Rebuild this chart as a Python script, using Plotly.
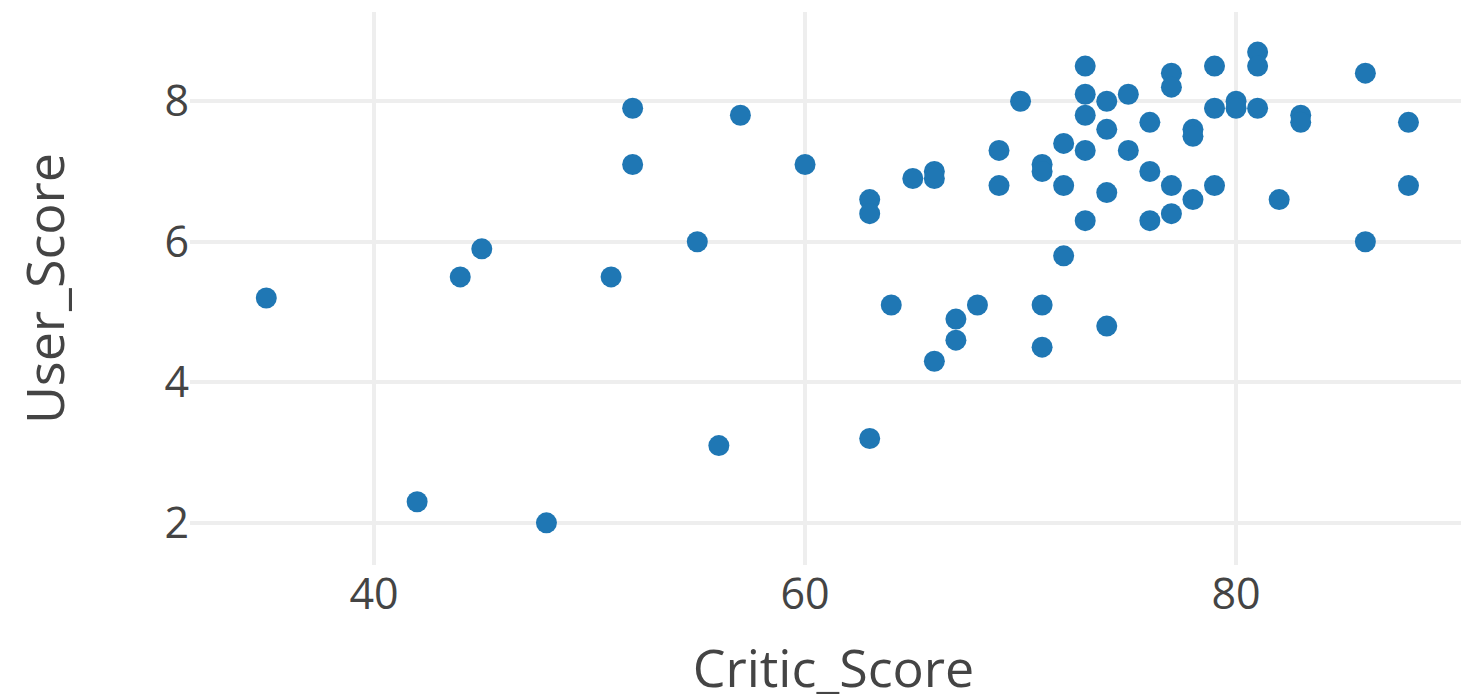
import plotly.graph_objects as go

critic_score = [35, 42, 44, 45, 48, 51, 52, 52, 55, 56, 57, 60, 63, 63, 63, 64, 65, 66, 66, 66,
                67, 67, 68, 69, 69, 70, 71, 71, 71, 71, 72, 72, 72, 73, 73, 73, 73, 73, 74, 74,
                74, 74, 75, 75, 76, 76, 76, 77, 77, 77, 77, 78, 78, 78, 79, 79, 79, 80, 80, 81,
                81, 81, 82, 83, 83, 86, 86, 88, 88]
user_score = [5.2, 2.3, 5.5, 5.9, 2.0, 5.5, 7.9, 7.1, 6.0, 3.1, 7.8, 7.1, 6.6, 6.4, 3.2, 5.1, 6.9, 7.0, 6.9, 4.3,
              4.9, 4.6, 5.1, 7.3, 6.8, 8.0, 7.1, 7.0, 5.1, 4.5, 7.4, 6.8, 5.8, 8.5, 8.1, 7.8, 7.3, 6.3, 8.0, 7.6,
              6.7, 4.8, 8.1, 7.3, 7.7, 7.0, 6.3, 8.4, 8.2, 6.8, 6.4, 7.6, 7.5, 6.6, 8.5, 7.9, 6.8, 8.0, 7.9, 8.7,
              8.5, 7.9, 6.6, 7.8, 7.7, 8.4, 6.0, 7.7, 6.8]

x_tick_vals = [40, 60, 80]
y_tick_vals = [2, 4, 6, 8]

fig = go.Figure(go.Scatter(
    x=critic_score, y=user_score, mode="markers",
    marker=dict(size=21, color="#1f77b4", line=dict(width=0)),
))

fig.update_layout(
    width=1469, height=694,
    margin=dict(l=182, r=0, t=4, b=137),
    paper_bgcolor="white", plot_bgcolor="white",
    font=dict(family="Open Sans, Verdana, sans-serif", color="#444444", size=43),
    showlegend=False,
)
fig.update_xaxes(
    range=[31.46, 91.18], tickvals=x_tick_vals, showgrid=True, gridcolor="#eeeeee", gridwidth=4,
    zeroline=False, showline=False, ticks="", tickfont=dict(size=43),
    title=dict(text="Critic_Score", font=dict(size=52), standoff=36),
)
fig.update_yaxes(
    range=[1.4, 9.27], tickvals=y_tick_vals, showgrid=True, gridcolor="#eeeeee", gridwidth=4,
    zeroline=False, showline=False, ticks="", tickfont=dict(size=43),
    title=dict(text="User_Score", font=dict(size=52), standoff=92),
)

fig.write_html("out.html")
